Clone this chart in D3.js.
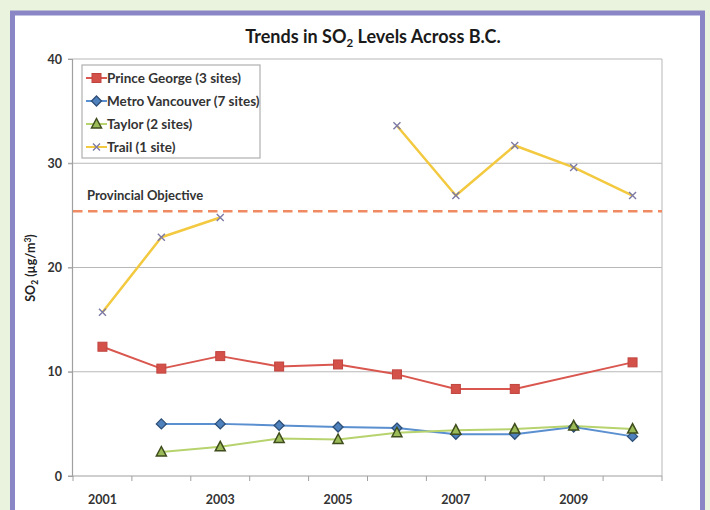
<!DOCTYPE html>
<html>
<head>
<meta charset="utf-8">
<script src="https://cdn.jsdelivr.net/npm/d3@7"></script>
<style>
  html, body { margin: 0; padding: 0; background: #eaf3dd; }
  svg { display: block; }
  text { font-family: Lato, "Open Sans", sans-serif; }
</style>
</head>
<body>
<svg id="chart" width="710" height="510"></svg>
<script>
// Annual mean SO2 concentrations (µg/m³) by airshed
const years = [2001, 2002, 2003, 2004, 2005, 2006, 2007, 2008, 2009, 2010];
const yearLabels = [2001, 2003, 2005, 2007, 2009];
const yTicks = [0, 10, 20, 30, 40];

const princeGeorge    = [12.4, 10.3, 11.5, 10.5, 10.7, 9.75, 8.35, 8.35, null, 10.9];
const metroVancouver  = [null, 5.0, 5.0, 4.85, 4.7, 4.6, 4.0, 4.0, 4.7, 3.8];
const taylor          = [null, 2.3, 2.8, 3.6, 3.5, 4.15, 4.4, 4.5, 4.8, 4.5];
const trail           = [15.7, 22.9, 24.8, null, null, 33.6, 26.9, 31.7, 29.6, 26.9];

const seriesNames = ["Prince George (3 sites)", "Metro Vancouver (7 sites)", "Taylor (2 sites)", "Trail (1 site)"];
const provincialObjective = 25.4;

const svg = d3.select("#chart");

// page frame
svg.append("rect").attr("x", 12.5).attr("y", 13).attr("width", 690).attr("height", 520)
  .attr("fill", "#ffffff").attr("stroke", "#8a86c6").attr("stroke-width", 5);

const x = d3.scaleBand().domain(years).range([73, 662]);
const y = d3.scaleLinear().domain([0, 40]).range([476, 59]);
const cx = d => x(d) + x.bandwidth() / 2;

// gridlines
svg.append("g").selectAll("line").data(yTicks.filter(t => t > 0)).join("line")
  .attr("x1", 68).attr("x2", 662).attr("y1", d => y(d)).attr("y2", d => y(d))
  .attr("stroke", "#b8b8b8").attr("stroke-width", 1.2);

// right border of plot area
svg.append("line").attr("x1", 662).attr("x2", 662).attr("y1", y(40)).attr("y2", y(0))
  .attr("stroke", "#c4c4c4").attr("stroke-width", 1.2);

// y axis
const yAxis = svg.append("g").attr("transform", "translate(72,0)")
  .call(d3.axisLeft(y).tickValues(yTicks).tickSize(4).tickPadding(6));
yAxis.select(".domain").attr("stroke", "#a0a0a0").attr("stroke-width", 1.2);
yAxis.selectAll(".tick line").attr("stroke", "#a0a0a0");
yAxis.selectAll(".tick text").attr("font-size", 12.5).attr("fill", "#333").attr("font-weight", 700)
  .style("font-family", "Lato, sans-serif");

// x axis: ticks on category boundaries, labels on alternate years
const xAxisG = svg.append("g").attr("transform", `translate(0,${y(0)})`);
xAxisG.append("line").attr("x1", 68).attr("x2", 662).attr("stroke", "#a0a0a0").attr("stroke-width", 1.2);
xAxisG.selectAll("line.tk").data(years.concat([null])).join("line").attr("class", "tk")
  .attr("x1", (d, i) => x.range()[0] + i * x.bandwidth())
  .attr("x2", (d, i) => x.range()[0] + i * x.bandwidth())
  .attr("y1", 0).attr("y2", 5).attr("stroke", "#a0a0a0");
const xLab = svg.append("g").attr("transform", `translate(0,${y(0)})`)
  .call(d3.axisBottom(x).tickValues(yearLabels).tickSize(0).tickPadding(19));
xLab.select(".domain").remove();
xLab.selectAll(".tick text").attr("font-size", 12.5).attr("fill", "#333").attr("font-weight", 700)
  .style("font-family", "Lato, sans-serif");

// provincial objective
svg.append("line").attr("x1", 73).attr("x2", 662)
  .attr("y1", y(provincialObjective)).attr("y2", y(provincialObjective))
  .attr("stroke", "#ef8a62").attr("stroke-width", 2.5).attr("stroke-dasharray", "9.5,5.5");
svg.append("text").attr("x", 87).attr("y", y(provincialObjective) - 11)
  .attr("font-size", 13).attr("fill", "#333").attr("font-weight", 700).text("Provincial Objective");

// series styling
const series = [
  { name: seriesNames[0], values: princeGeorge, line: "#d9574f", bridge: true, marker: "square", fill: "#d4514a", stroke: "#c0443e" },
  { name: seriesNames[1], values: metroVancouver, line: "#5a8fd0", bridge: false, marker: "diamond", fill: "#4f81bd", stroke: "#2d4f78" },
  { name: seriesNames[2], values: taylor, line: "#b7d36e", bridge: false, marker: "triangle", fill: "#9bbb59", stroke: "#3f4d1c" },
  { name: seriesNames[3], values: trail, line: "#f3c93f", bridge: false, marker: "cross", fill: "none", stroke: "#7d7aa6" }
];

function drawMarker(g, type, px, py, s) {
  if (type === "square") {
    g.append("rect").attr("x", px - 4.5).attr("y", py - 4.5).attr("width", 9).attr("height", 9)
      .attr("fill", s.fill).attr("stroke", s.stroke).attr("stroke-width", 1);
  } else if (type === "diamond") {
    g.append("path").attr("d", `M${px},${py - 5}L${px + 5},${py}L${px},${py + 5}L${px - 5},${py}Z`)
      .attr("fill", s.fill).attr("stroke", s.stroke).attr("stroke-width", 1.3);
  } else if (type === "triangle") {
    g.append("path").attr("d", `M${px},${py - 5.5}L${px + 5},${py + 4}L${px - 5},${py + 4}Z`)
      .attr("fill", s.fill).attr("stroke", s.stroke).attr("stroke-width", 1.5);
  } else {
    g.append("path").attr("d", `M${px - 3.5},${py - 3.5}L${px + 3.5},${py + 3.5}M${px + 3.5},${py - 3.5}L${px - 3.5},${py + 3.5}`)
      .attr("stroke", s.stroke).attr("stroke-width", 1.4).attr("fill", "none");
  }
}

const plot = svg.append("g");
series.forEach(s => {
  const pts = years.map((yr, i) => ({ yr, v: s.values[i] }));
  const line = d3.line().x(d => cx(d.yr)).y(d => y(d.v));
  const data = s.bridge ? pts.filter(d => d.v != null) : pts;
  line.defined(d => d.v != null);
  plot.append("path").datum(data).attr("d", line)
    .attr("fill", "none").attr("stroke", s.line).attr("stroke-width", s.marker === "cross" ? 2.5 : 2)
    .attr("stroke-linejoin", "round");
});
series.forEach(s => {
  const g = plot.append("g");
  years.forEach((yr, i) => {
    if (s.values[i] != null) drawMarker(g, s.marker, cx(yr), y(s.values[i]), s);
  });
});

// legend
const lg = svg.append("g");
lg.append("rect").attr("x", 82).attr("y", 65).attr("width", 178).attr("height", 93)
  .attr("fill", "#fff").attr("stroke", "#b0b0b0").attr("stroke-width", 1.2);
series.forEach((s, i) => {
  const ly = 78 + i * 23;
  lg.append("line").attr("x1", 86).attr("x2", 107).attr("y1", ly).attr("y2", ly)
    .attr("stroke", s.line).attr("stroke-width", 2);
  drawMarker(lg, s.marker, 96.5, ly, s);
  lg.append("text").attr("x", 107).attr("y", ly + 4.5).attr("font-size", 13.5).attr("font-weight", 700)
    .attr("fill", "#333").text(s.name);
});

// title
const title = svg.append("text").attr("x", 373).attr("y", 43).attr("text-anchor", "middle")
  .attr("font-size", 18).attr("font-weight", 700).attr("fill", "#1a1a1a");
title.append("tspan").text("Trends in SO");
title.append("tspan").attr("font-size", 11.5).attr("dy", 4).text("2");
title.append("tspan").attr("dy", -4).text(" Levels Across B.C.");

// y axis title
const yt = svg.append("text").attr("transform", "translate(35,268) rotate(-90)")
  .attr("text-anchor", "middle").attr("font-size", 12.5).attr("font-weight", 700).attr("fill", "#222");
yt.append("tspan").text("SO");
yt.append("tspan").attr("font-size", 8.5).attr("dy", 3).text("2");
yt.append("tspan").attr("dy", -3).text(" (µg/m");
yt.append("tspan").attr("font-size", 8.5).attr("dy", -4).text("3");
yt.append("tspan").attr("dy", 4).text(")");
</script>
</body>
</html>
